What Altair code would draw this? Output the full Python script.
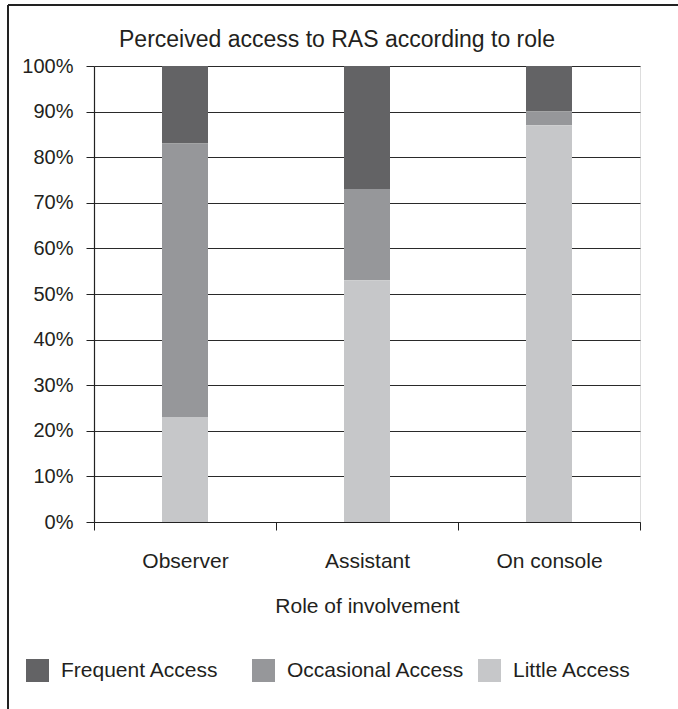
import altair as alt
import pandas as pd

roles = ["Observer", "Assistant", "On console"]
levels = ["Frequent Access", "Occasional Access", "Little Access"]
stack_rank = {"Little Access": 0, "Occasional Access": 1, "Frequent Access": 2}
little = [23, 53, 87]
occasional = [60, 20, 3]
frequent = [17, 27, 10]
colors = ["#636365", "#96979a", "#c6c7c9"]
y_ticks = [0, 10, 20, 30, 40, 50, 60, 70, 80, 90, 100]

rows = []
for i, r in enumerate(roles):
    for lvl, vals in zip(levels, [frequent, occasional, little]):
        rows.append({"role": r, "level": lvl, "pct": vals[i], "rank": stack_rank[lvl]})
df = pd.DataFrame(rows)

FONT = "Liberation Sans"
TXT = "#231f20"

bars = alt.Chart(df).mark_bar(size=46).encode(
    x=alt.X("role:N", sort=roles,
            scale=alt.Scale(paddingInner=0, paddingOuter=0),
            axis=alt.Axis(title="Role of involvement", labelAngle=0, tickBand="extent",
                          tickSize=8, tickColor="#222", domainColor="#222", domainWidth=1.2,
                          labelFontSize=21, labelFont=FONT, labelColor=TXT, labelPadding=20,
                          titleFontSize=21, titleFont=FONT, titleColor=TXT, titleFontWeight="normal",
                          titlePadding=24, grid=False)),
    y=alt.Y("pct:Q", stack="zero",
            scale=alt.Scale(domain=[0, 100], nice=False),
            axis=alt.Axis(title=None, values=y_ticks, labelExpr="datum.value + '%'",
                          tickSize=8, tickColor="#222", domainColor="#222", domainWidth=1.2,
                          labelFontSize=20, labelFont=FONT, labelColor=TXT, labelPadding=13,
                          grid=True, gridColor="#2a2a2a", gridWidth=1.2)),
    color=alt.Color("level:N",
                    scale=alt.Scale(domain=levels, range=colors),
                    legend=alt.Legend(title=None, orient="none", legendX=-68, legendY=593,
                                      direction="horizontal", symbolType="square",
                                      symbolSize=529, symbolStrokeWidth=0, symbolOpacity=1,
                                      labelFontSize=21, labelFont=FONT, labelColor=TXT,
                                      labelLimit=400, labelOffset=12, columnPadding=13,
                                      gridAlign="all")),
    order=alt.Order("rank:Q", sort="ascending"),
)

frame_v = alt.Chart(df).mark_rule(color="#222", strokeWidth=2).encode(
    x=alt.value(-86), y=alt.value(-61), y2=alt.value(660))
frame_h = alt.Chart(df).mark_rule(color="#222", strokeWidth=2).encode(
    x=alt.value(-86), x2=alt.value(600), y=alt.value(-61))

chart = alt.layer(bars, frame_v, frame_h).properties(
    width=546, height=456,
    autosize=alt.AutoSizeParams(type="none"),
    padding={"left": 94, "top": 66, "right": 38, "bottom": 187},
    title=alt.TitleParams("Perceived access to RAS according to role", fontSize=23, font=FONT,
                          color=TXT, fontWeight="normal", anchor="middle", frame="group",
                          dx=-30, dy=60, offset=12),
).configure_view(stroke="#222", strokeWidth=1.2).configure(background="white")

chart.save("out.html", embed_options={"renderer": "svg", "actions": False})
